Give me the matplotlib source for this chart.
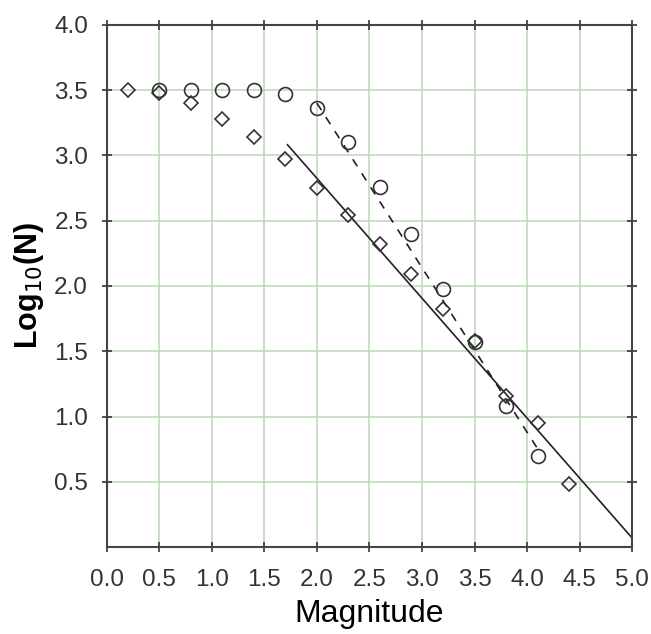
import numpy as np
import matplotlib.pyplot as plt

plt.rcParams['font.family'] = ['Liberation Sans', 'DejaVu Sans']

# cumulative counts (circles) and second catalogue (diamonds)
mag_circ = [0.5, 0.8, 1.1, 1.4, 1.7, 2.0, 2.3, 2.6, 2.9, 3.2, 3.5, 3.8, 4.1]
logn_circ = [3.50, 3.50, 3.50, 3.50, 3.47, 3.36, 3.10, 2.76, 2.40, 1.98, 1.57, 1.08, 0.70]

mag_diam = [0.2, 0.5, 0.8, 1.1, 1.4, 1.7, 2.0, 2.3, 2.6, 2.9, 3.2, 3.5, 3.8, 4.1, 4.4]
logn_diam = [3.50, 3.48, 3.40, 3.28, 3.14, 2.97, 2.75, 2.54, 2.32, 2.09, 1.82, 1.58, 1.16, 0.95, 0.48]

# Gutenberg-Richter fits: log N = a - b*M
a_solid, b_solid = 4.66, 0.918
m_solid = [1.72, 5.0]
a_dash, b_dash = 5.92, 1.26
m_dash = [2.0, 4.1]

fig = plt.figure(figsize=(6.51, 6.34), dpi=100)
ax = fig.add_axes([0.164, 0.137, 0.807, 0.824])

ax.grid(True, color='#bcd9b7', linewidth=1.1)
ax.set_axisbelow(True)

ms = np.array(m_solid)
ax.plot(ms, a_solid - b_solid * ms, color='#222222', lw=1.2)
md = np.array(m_dash)
ax.plot(md, a_dash - b_dash * md, color='#222222', lw=1.2, ls=(0, (5, 5)))

ax.plot(mag_circ, logn_circ, 'o', mfc='none', mec='#333333', ms=10, mew=1.2)
ax.plot(mag_diam, logn_diam, 'D', mfc='none', mec='#333333', ms=7, mew=1.2)

ax.set_xlim(0, 5)
ax.set_ylim(0, 4)
ax.set_xticks(np.arange(0, 5.01, 0.5))
ax.set_yticks(np.arange(0.5, 4.01, 0.5))
ax.set_xticklabels(['%.1f' % v for v in np.arange(0, 5.01, 0.5)])
ax.set_yticklabels(['%.1f' % v for v in np.arange(0.5, 4.01, 0.5)])
ax.tick_params(direction='inout', length=7, width=1.2, top=True, right=True,
               labelsize=17.5, colors='#333333', labelcolor='#333333')
ax.tick_params(axis='x', pad=12)
ax.tick_params(axis='y', pad=10)
for s in ax.spines.values():
    s.set_linewidth(1.5)
    s.set_color('#444444')

ax.set_xlabel('Magnitude', fontsize=23, labelpad=6)
ax.set_ylabel('Log$_{10}$(N)', fontsize=22, fontweight='bold', labelpad=6)

fig.savefig('out.png', dpi=100)
